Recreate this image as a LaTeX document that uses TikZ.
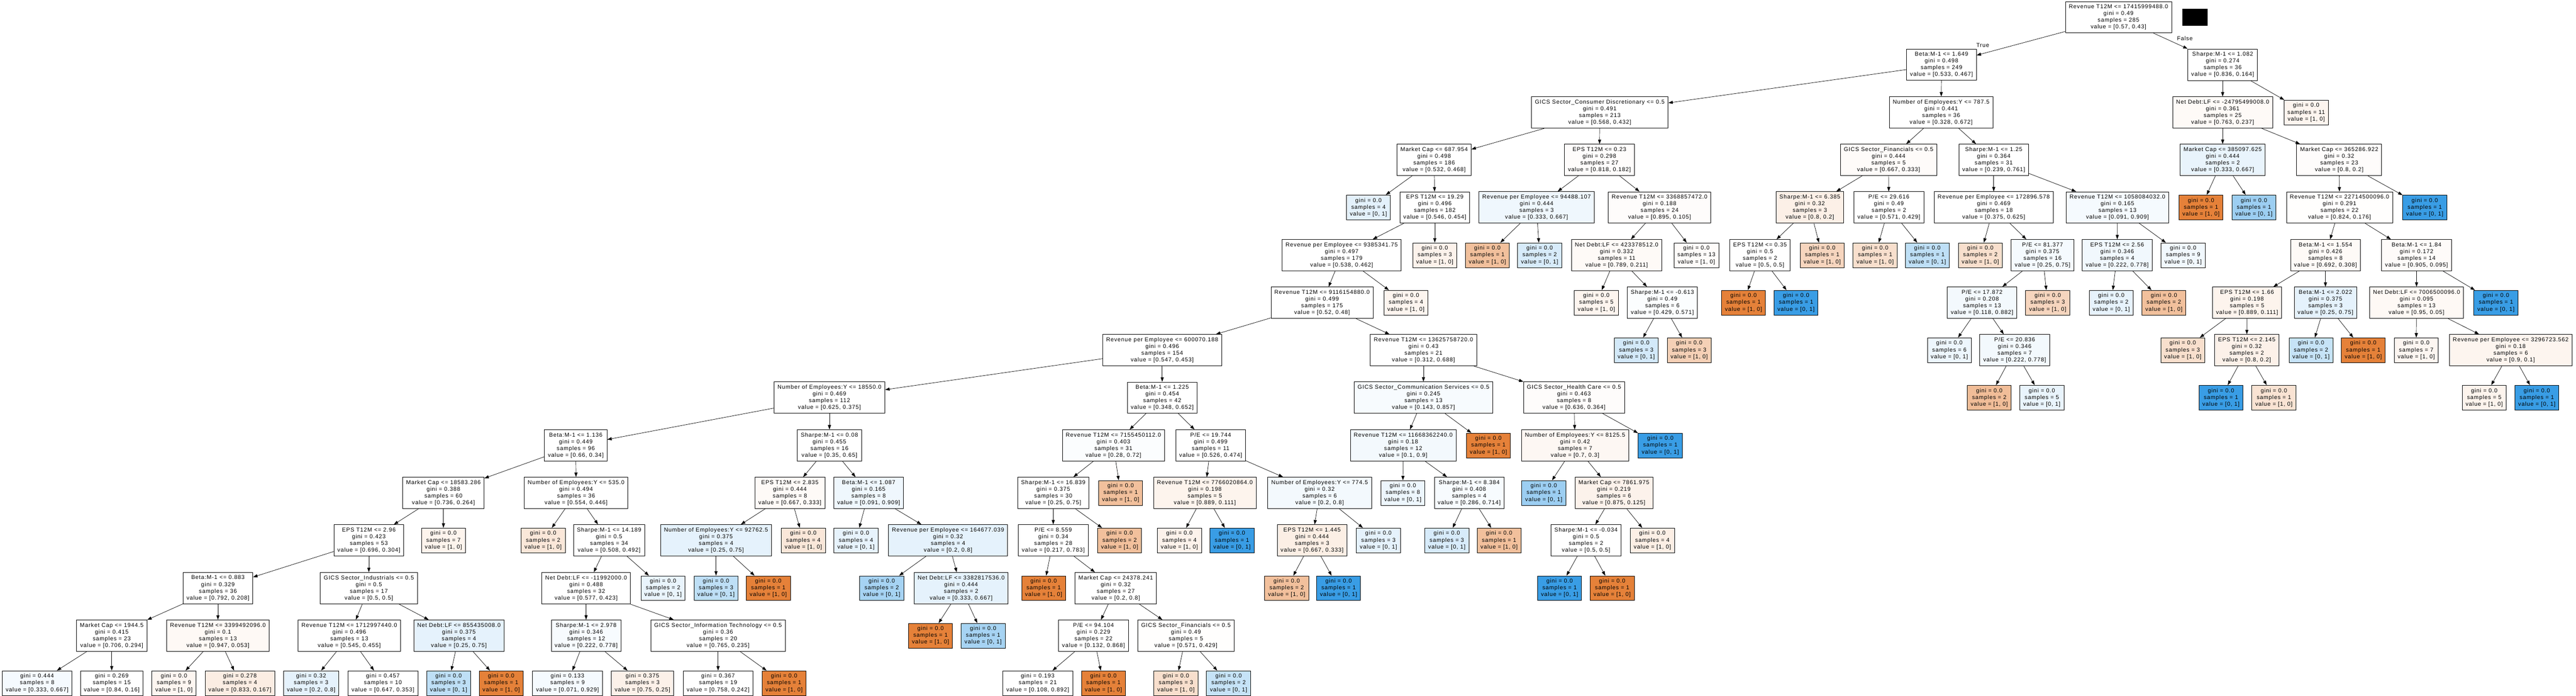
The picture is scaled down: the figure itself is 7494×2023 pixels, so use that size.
\documentclass[tikz,border=0pt]{standalone}
\usepackage{fontspec}
\setmainfont{Liberation Sans}[LetterSpace=8]
\usepackage{tikz}
\usetikzlibrary{arrows.meta}
\definecolor{cls0}{HTML}{E58139}
\definecolor{cls1}{HTML}{399DE5}

\begin{document}
\begin{tikzpicture}[
x=0.01cm, y=-0.01cm,
mybox/.style={
  draw,
  rectangle,
  fill=white,
  line width=0.35pt,
  align=center,
  inner xsep=0.1cm,
  inner ysep=0.085cm,
  font=\fontsize{4.69}{5.6}\selectfont},
mytext/.style={
  font=\fontsize{4.69}{5.6}\selectfont},
myarrow/.style={
  -{Triangle[length=0.13cm,width=0.09cm]},
  line width=0.3pt}
]
\useasboundingbox (0,0) rectangle (7494,2023);
% depth 0
\node[mybox] (n0) at (6163,50) {Revenue T12M <= 17415999488.0\\gini = 0.49\\samples = 285\\value = [0.57, 0.43]};
\fill (6349,26) rectangle (6422,75);
% depth 1
\node[mybox] (n1) at (5648,188) {Beta:M-1 <= 1.649\\gini = 0.498\\samples = 249\\value = [0.533, 0.467]};
\node[mybox] (n2) at (6466,188) {Sharpe:M-1 <= 1.082\\gini = 0.274\\samples = 36\\value = [0.836, 0.164]};
\node[mytext] (ltrue) at (5768,131) {True};
\node[mytext] (lfalse) at (6356,112) {False};
% depth 2
\node[mybox] (n3) at (4654,327) {GICS Sector\_Consumer Discretionary <= 0.5\\gini = 0.491\\samples = 213\\value = [0.568, 0.432]};
\node[mybox] (n4) at (5647,327) {Number of Employees:Y <= 787.5\\gini = 0.441\\samples = 36\\value = [0.328, 0.672]};
\node[mybox, fill=cls0!4] (n5) at (6466,327) {Net Debt:LF <= -24795499008.0\\gini = 0.361\\samples = 25\\value = [0.763, 0.237]};
\node[mybox, fill=cls0!8] (n6) at (6709,327) {gini = 0.0\\samples = 11\\value = [1, 0]};
% depth 3
\node[mybox] (n7) at (4172,465) {Market Cap <= 687.954\\gini = 0.498\\samples = 186\\value = [0.532, 0.468]};
\node[mybox, fill=cls0!2] (n8) at (4653,465) {EPS T12M <= 0.23\\gini = 0.298\\samples = 27\\value = [0.818, 0.182]};
\node[mybox, fill=cls0!3] (n9) at (5494,465) {GICS Sector\_Financials <= 0.5\\gini = 0.444\\samples = 5\\value = [0.667, 0.333]};
\node[mybox] (n10) at (5800,465) {Sharpe:M-1 <= 1.25\\gini = 0.364\\samples = 31\\value = [0.239, 0.761]};
\node[mybox, fill=cls1!11] (n11) at (6466,465) {Market Cap <= 385097.625\\gini = 0.444\\samples = 2\\value = [0.333, 0.667]};
\node[mybox, fill=cls0!2] (n12) at (6805,465) {Market Cap <= 365286.922\\gini = 0.32\\samples = 23\\value = [0.8, 0.2]};
% depth 4
\node[mybox, fill=cls1!14] (n13) at (3981,603) {gini = 0.0\\samples = 4\\value = [0, 1]};
\node[mybox] (n14) at (4174,603) {EPS T12M <= 19.29\\gini = 0.496\\samples = 182\\value = [0.546, 0.454]};
\node[mybox, fill=cls1!8] (n15) at (4470,603) {Revenue per Employee <= 94488.107\\gini = 0.444\\samples = 3\\value = [0.333, 0.667]};
\node[mybox, fill=cls0!2] (n16) at (4828,603) {Revenue T12M <= 3368857472.0\\gini = 0.188\\samples = 24\\value = [0.895, 0.105]};
\node[mybox, fill=cls0!12] (n17) at (5265,603) {Sharpe:M-1 <= 6.385\\gini = 0.32\\samples = 3\\value = [0.8, 0.2]};
\node[mybox] (n18) at (5495,603) {P/E <= 29.616\\gini = 0.49\\samples = 2\\value = [0.571, 0.429]};
\node[mybox] (n19) at (5800,603) {Revenue per Employee <= 172896.578\\gini = 0.469\\samples = 18\\value = [0.375, 0.625]};
\node[mybox, fill=cls1!5] (n20) at (6160,603) {Revenue T12M <= 1058084032.0\\gini = 0.165\\samples = 13\\value = [0.091, 0.909]};
\node[mybox, fill=cls0] (n21) at (6403,603) {gini = 0.0\\samples = 1\\value = [1, 0]};
\node[mybox, fill=cls1!50] (n22) at (6557,603) {gini = 0.0\\samples = 1\\value = [0, 1]};
\node[mybox, fill=cls0!1] (n23) at (6806,603) {Revenue T12M <= 22714500096.0\\gini = 0.291\\samples = 22\\value = [0.824, 0.176]};
\node[mybox, fill=cls1] (n24) at (7054,603) {gini = 0.0\\samples = 1\\value = [0, 1]};
% depth 5
\node[mybox] (n25) at (3903,742) {Revenue per Employee <= 9385341.75\\gini = 0.497\\samples = 179\\value = [0.538, 0.462]};
\node[mybox, fill=cls0!10] (n26) at (4174,742) {gini = 0.0\\samples = 3\\value = [1, 0]};
\node[mybox, fill=cls0!50] (n27) at (4327,742) {gini = 0.0\\samples = 1\\value = [1, 0]};
\node[mybox, fill=cls1!20] (n28) at (4479,742) {gini = 0.0\\samples = 2\\value = [0, 1]};
\node[mybox, fill=cls0!4] (n29) at (4703,742) {Net Debt:LF <= 423378512.0\\gini = 0.332\\samples = 11\\value = [0.789, 0.211]};
\node[mybox, fill=cls0!3] (n30) at (4935,742) {gini = 0.0\\samples = 13\\value = [1, 0]};
\node[mybox] (n31) at (5120,742) {EPS T12M <= 0.35\\gini = 0.5\\samples = 2\\value = [0.5, 0.5]};
\node[mybox, fill=cls0!33] (n32) at (5301,742) {gini = 0.0\\samples = 1\\value = [1, 0]};
\node[mybox, fill=cls0!25] (n33) at (5455,742) {gini = 0.0\\samples = 1\\value = [1, 0]};
\node[mybox, fill=cls1!33] (n34) at (5607,742) {gini = 0.0\\samples = 1\\value = [0, 1]};
\node[mybox, fill=cls0!25] (n35) at (5761,742) {gini = 0.0\\samples = 2\\value = [1, 0]};
\node[mybox, fill=cls1!5] (n36) at (5942,742) {P/E <= 81.377\\gini = 0.375\\samples = 16\\value = [0.25, 0.75]};
\node[mybox, fill=cls1!7] (n37) at (6159,742) {EPS T12M <= 2.56\\gini = 0.346\\samples = 4\\value = [0.222, 0.778]};
\node[mybox, fill=cls1!7] (n38) at (6351,742) {gini = 0.0\\samples = 9\\value = [0, 1]};
\node[mybox, fill=cls0!4] (n39) at (6765,742) {Beta:M-1 <= 1.554\\gini = 0.426\\samples = 8\\value = [0.692, 0.308]};
\node[mybox, fill=cls0!3] (n40) at (7030,742) {Beta:M-1 <= 1.84\\gini = 0.172\\samples = 14\\value = [0.905, 0.095]};
% depth 6
\node[mybox] (n41) at (3846,880) {Revenue T12M <= 9116154880.0\\gini = 0.499\\samples = 175\\value = [0.52, 0.48]};
\node[mybox, fill=cls0!8] (n42) at (4090,880) {gini = 0.0\\samples = 4\\value = [1, 0]};
\node[mybox, fill=cls0!8] (n43) at (4644,880) {gini = 0.0\\samples = 5\\value = [1, 0]};
\node[mybox, fill=cls1!2] (n44) at (4836,880) {Sharpe:M-1 <= -0.613\\gini = 0.49\\samples = 6\\value = [0.429, 0.571]};
\node[mybox, fill=cls0] (n45) at (5072,880) {gini = 0.0\\samples = 1\\value = [1, 0]};
\node[mybox, fill=cls1] (n46) at (5225,880) {gini = 0.0\\samples = 1\\value = [0, 1]};
\node[mybox, fill=cls1!6] (n47) at (5766,880) {P/E <= 17.872\\gini = 0.208\\samples = 13\\value = [0.118, 0.882]};
\node[mybox, fill=cls0!33] (n48) at (5957,880) {gini = 0.0\\samples = 3\\value = [1, 0]};
\node[mybox, fill=cls1!12] (n49) at (6142,880) {gini = 0.0\\samples = 2\\value = [0, 1]};
\node[mybox, fill=cls0!50] (n50) at (6295,880) {gini = 0.0\\samples = 2\\value = [1, 0]};
\node[mybox, fill=cls0!9] (n51) at (6537,880) {EPS T12M <= 1.66\\gini = 0.198\\samples = 5\\value = [0.889, 0.111]};
\node[mybox, fill=cls1!13] (n52) at (6765,880) {Beta:M-1 <= 2.022\\gini = 0.375\\samples = 3\\value = [0.25, 0.75]};
\node[mybox, fill=cls0!5] (n53) at (7030,880) {Net Debt:LF <= 7006500096.0\\gini = 0.095\\samples = 13\\value = [0.95, 0.05]};
\node[mybox, fill=cls1] (n54) at (7261,880) {gini = 0.0\\samples = 1\\value = [0, 1]};
% depth 7
\node[mybox] (n55) at (3381,1018) {Revenue per Employee <= 600070.188\\gini = 0.496\\samples = 154\\value = [0.547, 0.453]};
\node[mybox] (n56) at (4141,1018) {Revenue T12M <= 13625758720.0\\gini = 0.43\\samples = 21\\value = [0.312, 0.688]};
\node[mybox, fill=cls1!22] (n57) at (4760,1018) {gini = 0.0\\samples = 3\\value = [0, 1]};
\node[mybox, fill=cls0!37] (n58) at (4914,1018) {gini = 0.0\\samples = 3\\value = [1, 0]};
\node[mybox, fill=cls1!9] (n59) at (5671,1018) {gini = 0.0\\samples = 6\\value = [0, 1]};
\node[mybox, fill=cls1!6] (n60) at (5861,1018) {P/E <= 20.836\\gini = 0.346\\samples = 7\\value = [0.222, 0.778]};
\node[mybox, fill=cls0!25] (n61) at (6350,1018) {gini = 0.0\\samples = 3\\value = [1, 0]};
\node[mybox, fill=cls0!11] (n62) at (6536,1018) {EPS T12M <= 2.145\\gini = 0.32\\samples = 2\\value = [0.8, 0.2]};
\node[mybox, fill=cls1!29] (n63) at (6723,1018) {gini = 0.0\\samples = 2\\value = [0, 1]};
\node[mybox, fill=cls0] (n64) at (6875,1018) {gini = 0.0\\samples = 1\\value = [1, 0]};
\node[mybox, fill=cls0!7] (n65) at (7029,1018) {gini = 0.0\\samples = 7\\value = [1, 0]};
\node[mybox, fill=cls0!8] (n66) at (7304,1018) {Revenue per Employee <= 3296723.562\\gini = 0.18\\samples = 6\\value = [0.9, 0.1]};
% depth 8
\node[mybox] (n67) at (2413,1156) {Number of Employees:Y <= 18550.0\\gini = 0.469\\samples = 112\\value = [0.625, 0.375]};
\node[mybox] (n68) at (3381,1156) {Beta:M-1 <= 1.225\\gini = 0.454\\samples = 42\\value = [0.348, 0.652]};
\node[mybox, fill=cls1!4] (n69) at (4141,1156) {GICS Sector\_Communication Services <= 0.5\\gini = 0.245\\samples = 13\\value = [0.143, 0.857]};
\node[mybox, fill=cls0!2] (n70) at (4579,1156) {GICS Sector\_Health Care <= 0.5\\gini = 0.463\\samples = 8\\value = [0.636, 0.364]};
\node[mybox, fill=cls0!52] (n71) at (5787,1156) {gini = 0.0\\samples = 2\\value = [1, 0]};
\node[mybox, fill=cls1!11] (n72) at (5940,1156) {gini = 0.0\\samples = 5\\value = [0, 1]};
\node[mybox, fill=cls1] (n73) at (6461,1156) {gini = 0.0\\samples = 1\\value = [0, 1]};
\node[mybox, fill=cls0!22] (n74) at (6615,1156) {gini = 0.0\\samples = 1\\value = [1, 0]};
\node[mybox, fill=cls0!9] (n75) at (7227,1156) {gini = 0.0\\samples = 5\\value = [1, 0]};
\node[mybox, fill=cls1] (n76) at (7380,1156) {gini = 0.0\\samples = 1\\value = [0, 1]};
% depth 9
\node[mybox] (n77) at (1675,1295) {Beta:M-1 <= 1.136\\gini = 0.449\\samples = 96\\value = [0.66, 0.34]};
\node[mybox] (n78) at (2413,1295) {Sharpe:M-1 <= 0.08\\gini = 0.455\\samples = 16\\value = [0.35, 0.65]};
\node[mybox, fill=cls1!2] (n79) at (3239,1295) {Revenue T12M <= 7155450112.0\\gini = 0.403\\samples = 31\\value = [0.28, 0.72]};
\node[mybox] (n80) at (3522,1295) {P/E <= 19.744\\gini = 0.499\\samples = 11\\value = [0.526, 0.474]};
\node[mybox, fill=cls1!6] (n81) at (4082,1295) {Revenue T12M <= 11668362240.0\\gini = 0.18\\samples = 12\\value = [0.1, 0.9]};
\node[mybox, fill=cls0] (n82) at (4330,1295) {gini = 0.0\\samples = 1\\value = [1, 0]};
\node[mybox, fill=cls0!6] (n83) at (4582,1295) {Number of Employees:Y <= 8125.5\\gini = 0.42\\samples = 7\\value = [0.7, 0.3]};
\node[mybox, fill=cls1] (n84) at (4830,1295) {gini = 0.0\\samples = 1\\value = [0, 1]};
% depth 10
\node[mybox] (n85) at (1290,1433) {Market Cap <= 18583.286\\gini = 0.388\\samples = 60\\value = [0.736, 0.264]};
\node[mybox] (n86) at (1676,1433) {Number of Employees:Y <= 535.0\\gini = 0.494\\samples = 36\\value = [0.554, 0.446]};
\node[mybox, fill=cls0!4] (n87) at (2298,1433) {EPS T12M <= 2.835\\gini = 0.444\\samples = 8\\value = [0.667, 0.333]};
\node[mybox, fill=cls1!8] (n88) at (2527,1433) {Beta:M-1 <= 1.087\\gini = 0.165\\samples = 8\\value = [0.091, 0.909]};
\node[mybox] (n89) at (3064,1433) {Sharpe:M-1 <= 16.839\\gini = 0.375\\samples = 30\\value = [0.25, 0.75]};
\node[mybox, fill=cls0!50] (n90) at (3260,1433) {gini = 0.0\\samples = 1\\value = [1, 0]};
\node[mybox, fill=cls0!9] (n91) at (3505,1433) {Revenue T12M <= 7766020864.0\\gini = 0.198\\samples = 5\\value = [0.889, 0.111]};
\node[mybox, fill=cls1!6] (n92) at (3839,1433) {Number of Employees:Y <= 774.5\\gini = 0.32\\samples = 6\\value = [0.2, 0.8]};
\node[mybox, fill=cls1!9] (n93) at (4081,1433) {gini = 0.0\\samples = 8\\value = [0, 1]};
\node[mybox, fill=cls1!4] (n94) at (4274,1433) {Sharpe:M-1 <= 8.384\\gini = 0.408\\samples = 4\\value = [0.286, 0.714]};
\node[mybox, fill=cls1!50] (n95) at (4491,1433) {gini = 0.0\\samples = 1\\value = [0, 1]};
\node[mybox, fill=cls0!10] (n96) at (4695,1433) {Market Cap <= 7861.975\\gini = 0.219\\samples = 6\\value = [0.875, 0.125]};
% depth 11
\node[mybox] (n97) at (1073,1571) {EPS T12M <= 2.96\\gini = 0.423\\samples = 53\\value = [0.696, 0.304]};
\node[mybox, fill=cls0!9] (n98) at (1290,1571) {gini = 0.0\\samples = 7\\value = [1, 0]};
\node[mybox, fill=cls0!19] (n99) at (1580,1571) {gini = 0.0\\samples = 2\\value = [1, 0]};
\node[mybox] (n100) at (1772,1571) {Sharpe:M-1 <= 14.189\\gini = 0.5\\samples = 34\\value = [0.508, 0.492]};
\node[mybox, fill=cls1!13] (n101) at (2083,1571) {Number of Employees:Y <= 92762.5\\gini = 0.375\\samples = 4\\value = [0.25, 0.75]};
\node[mybox, fill=cls0!19] (n102) at (2337,1571) {gini = 0.0\\samples = 4\\value = [1, 0]};
\node[mybox, fill=cls1!12] (n103) at (2490,1571) {gini = 0.0\\samples = 4\\value = [0, 1]};
\node[mybox, fill=cls1!13] (n104) at (2758,1571) {Revenue per Employee <= 164677.039\\gini = 0.32\\samples = 4\\value = [0.2, 0.8]};
\node[mybox] (n105) at (3064,1571) {P/E <= 8.559\\gini = 0.34\\samples = 28\\value = [0.217, 0.783]};
\node[mybox, fill=cls0!50] (n106) at (3257,1571) {gini = 0.0\\samples = 2\\value = [1, 0]};
\node[mybox, fill=cls0!10] (n107) at (3431,1571) {gini = 0.0\\samples = 4\\value = [1, 0]};
\node[mybox, fill=cls1] (n108) at (3584,1571) {gini = 0.0\\samples = 1\\value = [0, 1]};
\node[mybox, fill=cls0!13] (n109) at (3817,1571) {EPS T12M <= 1.445\\gini = 0.444\\samples = 3\\value = [0.667, 0.333]};
\node[mybox, fill=cls1!13] (n110) at (4010,1571) {gini = 0.0\\samples = 3\\value = [0, 1]};
\node[mybox, fill=cls1!20] (n111) at (4209,1571) {gini = 0.0\\samples = 3\\value = [0, 1]};
\node[mybox, fill=cls0!50] (n112) at (4361,1571) {gini = 0.0\\samples = 1\\value = [1, 0]};
\node[mybox] (n113) at (4614,1571) {Sharpe:M-1 <= -0.034\\gini = 0.5\\samples = 2\\value = [0.5, 0.5]};
\node[mybox, fill=cls0!13] (n114) at (4807,1571) {gini = 0.0\\samples = 4\\value = [1, 0]};
% depth 12
\node[mybox] (n115) at (634,1710) {Beta:M-1 <= 0.883\\gini = 0.329\\samples = 36\\value = [0.792, 0.208]};
\node[mybox] (n116) at (1073,1710) {GICS Sector\_Industrials <= 0.5\\gini = 0.5\\samples = 17\\value = [0.5, 0.5]};
\node[mybox] (n117) at (1705,1710) {Net Debt:LF <= -11992000.0\\gini = 0.488\\samples = 32\\value = [0.577, 0.423]};
\node[mybox, fill=cls1!11] (n118) at (1929,1710) {gini = 0.0\\samples = 2\\value = [0, 1]};
\node[mybox, fill=cls1!33] (n119) at (2083,1710) {gini = 0.0\\samples = 3\\value = [0, 1]};
\node[mybox, fill=cls0] (n120) at (2235,1710) {gini = 0.0\\samples = 1\\value = [1, 0]};
\node[mybox, fill=cls1!45] (n121) at (2565,1710) {gini = 0.0\\samples = 2\\value = [0, 1]};
\node[mybox, fill=cls1!13] (n122) at (2796,1710) {Net Debt:LF <= 3382817536.0\\gini = 0.444\\samples = 2\\value = [0.333, 0.667]};
\node[mybox, fill=cls0] (n123) at (3036,1710) {gini = 0.0\\samples = 1\\value = [1, 0]};
\node[mybox] (n124) at (3246,1710) {Market Cap <= 24378.241\\gini = 0.32\\samples = 27\\value = [0.2, 0.8]};
\node[mybox, fill=cls0!50] (n125) at (3743,1710) {gini = 0.0\\samples = 2\\value = [1, 0]};
\node[mybox, fill=cls1] (n126) at (3894,1710) {gini = 0.0\\samples = 1\\value = [0, 1]};
\node[mybox, fill=cls1] (n127) at (4537,1710) {gini = 0.0\\samples = 1\\value = [0, 1]};
\node[mybox, fill=cls0] (n128) at (4690,1710) {gini = 0.0\\samples = 1\\value = [1, 0]};
% depth 13
\node[mybox] (n129) at (325,1848) {Market Cap <= 1944.5\\gini = 0.415\\samples = 23\\value = [0.706, 0.294]};
\node[mybox, fill=cls0!5] (n130) at (634,1848) {Revenue T12M <= 3399492096.0\\gini = 0.1\\samples = 13\\value = [0.947, 0.053]};
\node[mybox] (n131) at (1016,1848) {Revenue T12M <= 1712997440.0\\gini = 0.496\\samples = 13\\value = [0.545, 0.455]};
\node[mybox, fill=cls1!13] (n132) at (1335,1848) {Net Debt:LF <= 855435008.0\\gini = 0.375\\samples = 4\\value = [0.25, 0.75]};
\node[mybox, fill=cls1!4] (n133) at (1705,1848) {Sharpe:M-1 <= 2.978\\gini = 0.346\\samples = 12\\value = [0.222, 0.778]};
\node[mybox] (n134) at (2089,1848) {GICS Sector\_Information Technology <= 0.5\\gini = 0.36\\samples = 20\\value = [0.765, 0.235]};
\node[mybox, fill=cls0] (n135) at (2707,1848) {gini = 0.0\\samples = 1\\value = [1, 0]};
\node[mybox, fill=cls1!45] (n136) at (2860,1848) {gini = 0.0\\samples = 1\\value = [0, 1]};
\node[mybox] (n137) at (3181,1848) {P/E <= 94.104\\gini = 0.229\\samples = 22\\value = [0.132, 0.868]};
\node[mybox, fill=cls0!1] (n138) at (3450,1848) {GICS Sector\_Financials <= 0.5\\gini = 0.49\\samples = 5\\value = [0.571, 0.429]};
% depth 14
\node[mybox, fill=cls1!5] (n139) at (108,1986) {gini = 0.444\\samples = 8\\value = [0.333, 0.667]};
\node[mybox] (n140) at (325,1986) {gini = 0.269\\samples = 15\\value = [0.84, 0.16]};
\node[mybox, fill=cls0!7] (n141) at (506,1986) {gini = 0.0\\samples = 9\\value = [1, 0]};
\node[mybox, fill=cls0!14] (n142) at (698,1986) {gini = 0.278\\samples = 4\\value = [0.833, 0.167]};
\node[mybox, fill=cls1!13] (n143) at (905,1986) {gini = 0.32\\samples = 3\\value = [0.2, 0.8]};
\node[mybox] (n144) at (1114,1986) {gini = 0.457\\samples = 10\\value = [0.647, 0.353]};
\node[mybox, fill=cls1!33] (n145) at (1305,1986) {gini = 0.0\\samples = 3\\value = [0, 1]};
\node[mybox, fill=cls0] (n146) at (1458,1986) {gini = 0.0\\samples = 1\\value = [1, 0]};
\node[mybox, fill=cls1!5] (n147) at (1651,1986) {gini = 0.133\\samples = 9\\value = [0.071, 0.929]};
\node[mybox, fill=cls0!11] (n148) at (1869,1986) {gini = 0.375\\samples = 3\\value = [0.75, 0.25]};
\node[mybox] (n149) at (2089,1986) {gini = 0.367\\samples = 19\\value = [0.758, 0.242]};
\node[mybox, fill=cls0] (n150) at (2281,1986) {gini = 0.0\\samples = 1\\value = [1, 0]};
\node[mybox] (n151) at (3019,1986) {gini = 0.193\\samples = 21\\value = [0.108, 0.892]};
\node[mybox, fill=cls0] (n152) at (3210,1986) {gini = 0.0\\samples = 1\\value = [1, 0]};
\node[mybox, fill=cls0!25] (n153) at (3421,1986) {gini = 0.0\\samples = 3\\value = [1, 0]};
\node[mybox, fill=cls1!29] (n154) at (3574,1986) {gini = 0.0\\samples = 2\\value = [0, 1]};
% edges
\foreach \Pa/\Ch in {n0/n1, n0/n2, n1/n3, n1/n4, n2/n5, n2/n6,
  n3/n7, n3/n8, n4/n9, n4/n10, n5/n11, n5/n12,
  n7/n13, n7/n14, n8/n15, n8/n16, n9/n17, n9/n18, n10/n19, n10/n20,
  n11/n21, n11/n22, n12/n23, n12/n24,
  n14/n25, n14/n26, n15/n27, n15/n28, n16/n29, n16/n30, n17/n31, n17/n32,
  n18/n33, n18/n34, n19/n35, n19/n36, n20/n37, n20/n38, n23/n39, n23/n40,
  n25/n41, n25/n42, n29/n43, n29/n44, n31/n45, n31/n46, n36/n47, n36/n48,
  n37/n49, n37/n50, n39/n51, n39/n52, n40/n53, n40/n54,
  n41/n55, n41/n56, n44/n57, n44/n58, n47/n59, n47/n60, n51/n61, n51/n62,
  n52/n63, n52/n64, n53/n65, n53/n66,
  n55/n67, n55/n68, n56/n69, n56/n70, n60/n71, n60/n72, n62/n73, n62/n74,
  n66/n75, n66/n76,
  n67/n77, n67/n78, n68/n79, n68/n80, n69/n81, n69/n82, n70/n83, n70/n84,
  n77/n85, n77/n86, n78/n87, n78/n88, n79/n89, n79/n90, n80/n91, n80/n92,
  n81/n93, n81/n94, n83/n95, n83/n96,
  n85/n97, n85/n98, n86/n99, n86/n100, n87/n101, n87/n102, n88/n103, n88/n104,
  n89/n105, n89/n106, n91/n107, n91/n108, n92/n109, n92/n110, n94/n111, n94/n112,
  n96/n113, n96/n114,
  n97/n115, n97/n116, n100/n117, n100/n118, n101/n119, n101/n120,
  n104/n121, n104/n122, n105/n123, n105/n124, n109/n125, n109/n126,
  n113/n127, n113/n128,
  n115/n129, n115/n130, n116/n131, n116/n132, n117/n133, n117/n134,
  n122/n135, n122/n136, n124/n137, n124/n138,
  n129/n139, n129/n140, n130/n141, n130/n142, n131/n143, n131/n144,
  n132/n145, n132/n146, n133/n147, n133/n148, n134/n149, n134/n150,
  n137/n151, n137/n152, n138/n153, n138/n154}
  \draw[myarrow] (\Pa) -- (\Ch);
\end{tikzpicture}
\end{document}
